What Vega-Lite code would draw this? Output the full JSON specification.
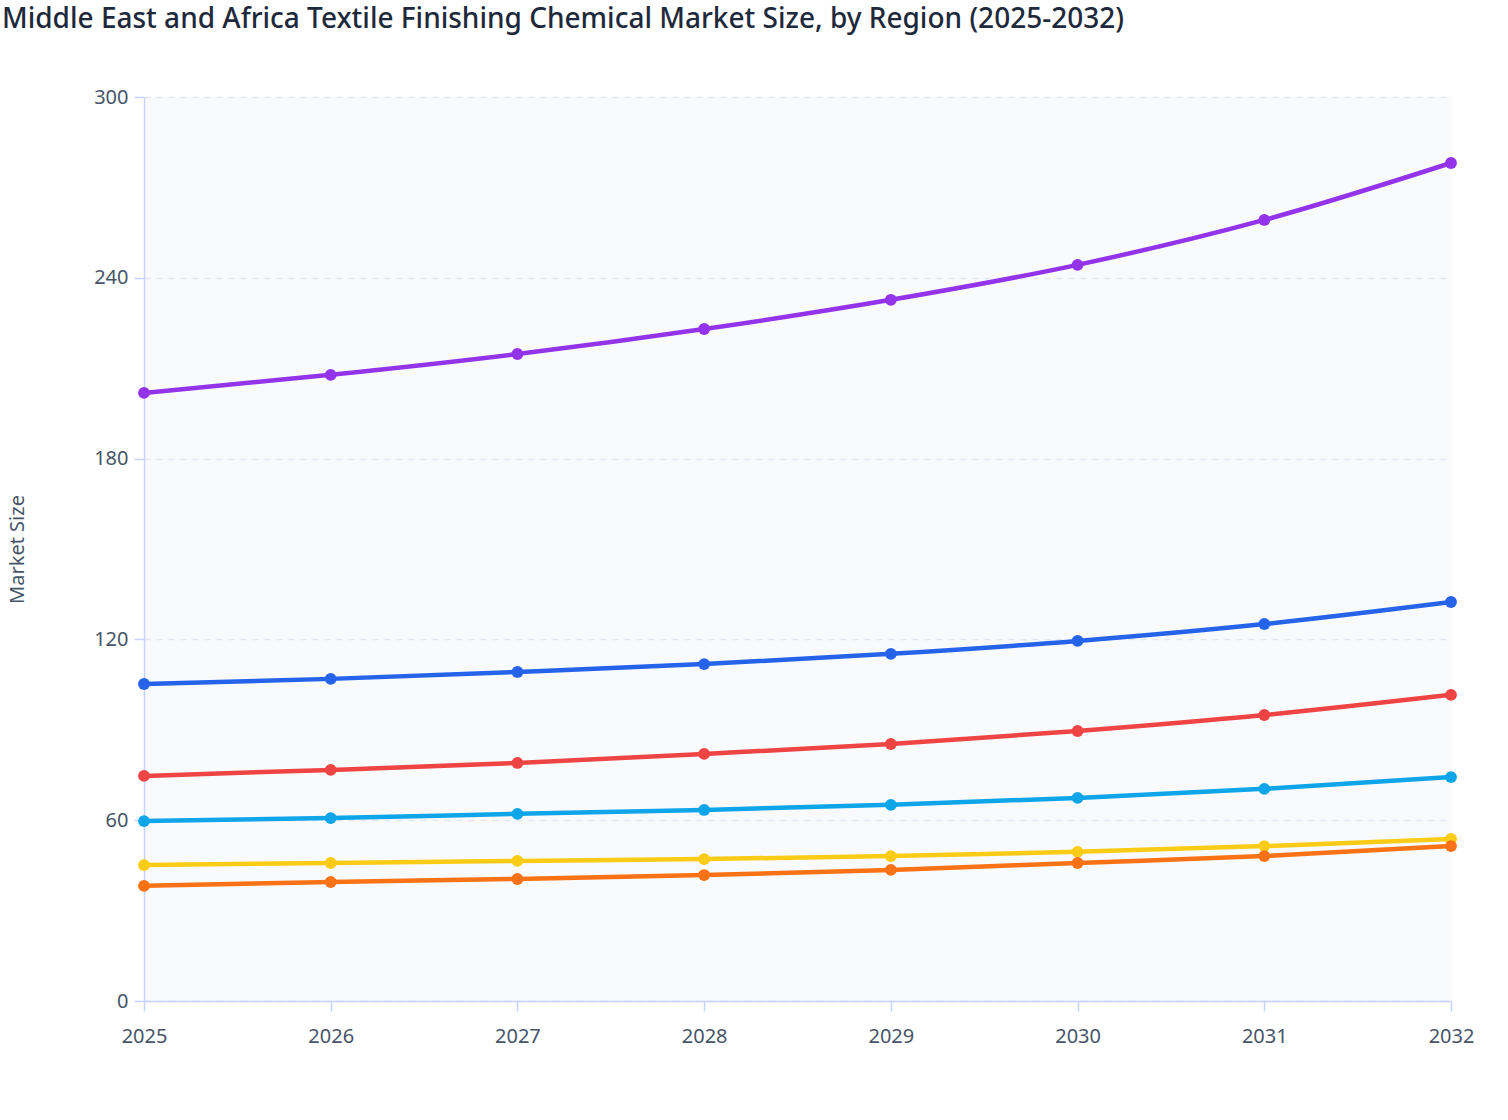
{
  "$schema": "https://vega.github.io/schema/vega-lite/v6.json",
  "description": "Middle East and Africa textile finishing chemical market size by region",
  "autosize": {"type": "none"},
  "width": 1307,
  "height": 904,
  "padding": {"left": 144, "top": 97, "right": 57, "bottom": 119},
  "background": "#ffffff",
  "title": {
    "text": "Middle East and Africa Textile Finishing Chemical Market Size, by Region (2025-2032)",
    "anchor": "start",
    "frame": "group",
    "dx": -142,
    "offset": 53,
    "font": "Noto Sans",
    "fontSize": 28,
    "fontWeight": 500,
    "color": "#1e293b"
  },
  "config": {
    "view": {"fill": "#f8fafc", "stroke": null},
    "font": "Noto Sans"
  },
  "data": {
    "values": [
      {"Year": 2025, "Region": "GCC", "Size": 201.8},
      {"Year": 2026, "Region": "GCC", "Size": 207.8},
      {"Year": 2027, "Region": "GCC", "Size": 214.7},
      {"Year": 2028, "Region": "GCC", "Size": 223.0},
      {"Year": 2029, "Region": "GCC", "Size": 232.7},
      {"Year": 2030, "Region": "GCC", "Size": 244.3},
      {"Year": 2031, "Region": "GCC", "Size": 259.2},
      {"Year": 2032, "Region": "GCC", "Size": 278.1},
      {"Year": 2025, "Region": "Turkey", "Size": 105.2},
      {"Year": 2026, "Region": "Turkey", "Size": 106.9},
      {"Year": 2027, "Region": "Turkey", "Size": 109.2},
      {"Year": 2028, "Region": "Turkey", "Size": 111.8},
      {"Year": 2029, "Region": "Turkey", "Size": 115.2},
      {"Year": 2030, "Region": "Turkey", "Size": 119.5},
      {"Year": 2031, "Region": "Turkey", "Size": 125.1},
      {"Year": 2032, "Region": "Turkey", "Size": 132.4},
      {"Year": 2025, "Region": "Egypt", "Size": 74.7},
      {"Year": 2026, "Region": "Egypt", "Size": 76.7},
      {"Year": 2027, "Region": "Egypt", "Size": 79.0},
      {"Year": 2028, "Region": "Egypt", "Size": 82.0},
      {"Year": 2029, "Region": "Egypt", "Size": 85.3},
      {"Year": 2030, "Region": "Egypt", "Size": 89.6},
      {"Year": 2031, "Region": "Egypt", "Size": 94.9},
      {"Year": 2032, "Region": "Egypt", "Size": 101.6},
      {"Year": 2025, "Region": "South Africa", "Size": 59.7},
      {"Year": 2026, "Region": "South Africa", "Size": 60.7},
      {"Year": 2027, "Region": "South Africa", "Size": 62.1},
      {"Year": 2028, "Region": "South Africa", "Size": 63.4},
      {"Year": 2029, "Region": "South Africa", "Size": 65.1},
      {"Year": 2030, "Region": "South Africa", "Size": 67.4},
      {"Year": 2031, "Region": "South Africa", "Size": 70.4},
      {"Year": 2032, "Region": "South Africa", "Size": 74.3},
      {"Year": 2025, "Region": "Israel", "Size": 45.1},
      {"Year": 2026, "Region": "Israel", "Size": 45.8},
      {"Year": 2027, "Region": "Israel", "Size": 46.5},
      {"Year": 2028, "Region": "Israel", "Size": 47.1},
      {"Year": 2029, "Region": "Israel", "Size": 48.1},
      {"Year": 2030, "Region": "Israel", "Size": 49.5},
      {"Year": 2031, "Region": "Israel", "Size": 51.4},
      {"Year": 2032, "Region": "Israel", "Size": 53.8},
      {"Year": 2025, "Region": "Rest of MEA", "Size": 38.2},
      {"Year": 2026, "Region": "Rest of MEA", "Size": 39.5},
      {"Year": 2027, "Region": "Rest of MEA", "Size": 40.5},
      {"Year": 2028, "Region": "Rest of MEA", "Size": 41.8},
      {"Year": 2029, "Region": "Rest of MEA", "Size": 43.5},
      {"Year": 2030, "Region": "Rest of MEA", "Size": 45.8},
      {"Year": 2031, "Region": "Rest of MEA", "Size": 48.1},
      {"Year": 2032, "Region": "Rest of MEA", "Size": 51.4}
    ]
  },
  "encoding": {
    "x": {
      "field": "Year",
      "type": "quantitative",
      "scale": {"domain": [2025, 2032], "nice": false, "zero": false},
      "axis": {
        "title": null,
        "values": [2025, 2026, 2027, 2028, 2029, 2030, 2031, 2032],
        "format": "d",
        "grid": false,
        "labelFlush": false,
        "domainColor": "#c7d2fe",
        "domainWidth": 1.5,
        "tickColor": "#c7d2fe",
        "tickWidth": 1.5,
        "tickSize": 10,
        "labelPadding": 15,
        "labelFontSize": 20,
        "labelColor": "#475569",
        "labelFont": "Noto Sans"
      }
    },
    "y": {
      "field": "Size",
      "type": "quantitative",
      "scale": {"domain": [0, 300], "nice": false},
      "axis": {
        "title": "Market Size",
        "titleX": -117,
        "titleFontSize": 20,
        "titleFontWeight": "normal",
        "titleColor": "#475569",
        "titleFont": "Noto Sans",
        "values": [0, 60, 120, 180, 240, 300],
        "grid": true,
        "gridColor": "#e2e8f0",
        "gridDash": [6, 6],
        "gridWidth": 1.5,
        "domainColor": "#c7d2fe",
        "domainWidth": 1.5,
        "tickColor": "#c7d2fe",
        "tickWidth": 1.5,
        "tickSize": 10,
        "labelPadding": 6,
        "labelFontSize": 20,
        "labelColor": "#475569",
        "labelFont": "Noto Sans"
      }
    },
    "color": {
      "field": "Region",
      "type": "nominal",
      "scale": {
        "domain": ["GCC", "Turkey", "Egypt", "South Africa", "Israel", "Rest of MEA"],
        "range": ["#9333ea", "#2563eb", "#ef4444", "#0ea5e9", "#facc15", "#f97316"]
      },
      "legend": null
    }
  },
  "layer": [
    {"mark": {"type": "line", "strokeWidth": 4.5, "interpolate": "monotone"}},
    {"mark": {"type": "point", "filled": true, "opacity": 1, "size": 140}}
  ]
}
